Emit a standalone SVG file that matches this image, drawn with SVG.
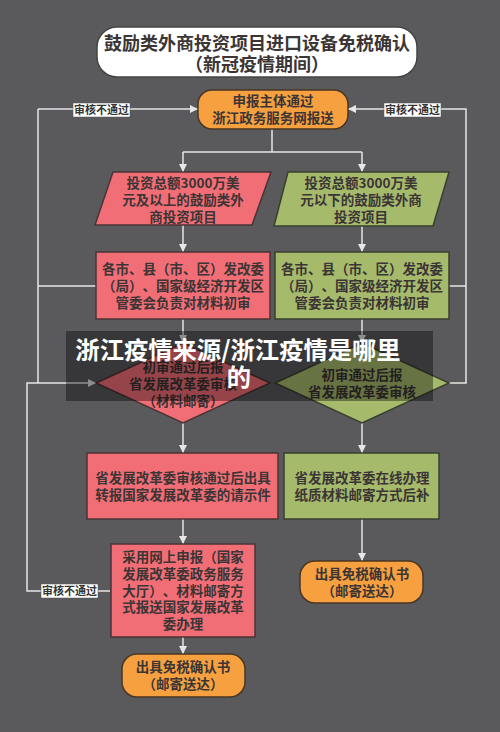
<svg xmlns="http://www.w3.org/2000/svg" width="500" height="732" viewBox="0 0 500 732">
<style>
text{font-family:"Noto Sans CJK SC","Noto Sans",sans-serif;font-weight:bold;fill:#3b3535;text-anchor:middle;font-size:13.5px;text-spacing-trim:space-all}
.pink{fill:#f26e76;stroke:#4a3434;stroke-width:1.5}
.green{fill:#a6ba6c;stroke:#3a4030;stroke-width:1.5}
.orange{fill:#f6a040;stroke:#4a3624;stroke-width:1.5}
.ln{fill:none;stroke:#e6e6e6;stroke-width:1.5}
.arr{marker-end:url(#ah)}
.lbl{fill:#ffffff;stroke:#555;stroke-width:0.5}
.lt{font-size:11px;fill:#333}
</style>
<defs>
<marker id="ah" markerUnits="userSpaceOnUse" markerWidth="9" markerHeight="8" refX="8" refY="4" orient="auto">
<path d="M0,0 L8,4 L0,8 z" fill="#e6e6e6"/>
</marker>
</defs>
<rect width="500" height="732" fill="#5a5a5c"/>
<g id="connectors">
<path class="ln" d="M272,129 V152 M183,152 H362"/>
<path class="ln arr" d="M183,152 V172"/>
<path class="ln arr" d="M362,152 V172"/>
<path class="ln arr" d="M183,225 V252"/>
<path class="ln arr" d="M362,226 V252"/>
<path class="ln arr" d="M183,319 V343"/>
<path class="ln arr" d="M362,319 V343"/>
<path class="ln arr" d="M183,423 V453"/>
<path class="ln arr" d="M362,423 V453"/>
<path class="ln arr" d="M183,519 V544"/>
<path class="ln arr" d="M362,519 V561"/>
<path class="ln arr" d="M183,637 V654"/>
<path class="ln" d="M96,286 H38 M38,383 V109"/>
<path class="ln arr" d="M38,109 H198"/>
<path class="ln arr" d="M110,591 H27 V383 H96"/>
<path class="ln" d="M449,286 H466"/>
<path class="ln arr" d="M449,383 H466 V109 H348"/>
<rect class="lbl" x="73" y="103" width="57" height="14"/>
<text class="lt" x="101.5" y="114">审核不通过</text>
<rect class="lbl" x="384" y="103" width="57" height="14"/>
<text class="lt" x="412.5" y="114">审核不通过</text>
<rect class="lbl" x="41" y="584" width="57" height="14"/>
<text class="lt" x="69.5" y="595">审核不通过</text>
</g>
<g id="title">
<rect x="97" y="27" width="320" height="50" rx="20" fill="#ffffff" stroke="#444" stroke-width="1.5"/>
<text x="257" y="50" style="font-size:18px">鼓励类外商投资项目进口设备免税确认</text>
<text x="257" y="71" style="font-size:18px">（新冠疫情期间）</text>
</g>
<g id="n_start">
<rect class="orange" x="198" y="90" width="150" height="39" rx="14"/>
<text x="273" y="106">申报主体通过</text>
<text x="273" y="123">浙江政务服务网报送</text>
</g>
<g id="n_para_pink">
<polygon class="pink" points="113,172 271,172 252,225 95,225"/>
<text x="183" y="188">投资总额3000万美</text>
<text x="183" y="205">元及以上的鼓励类外</text>
<text x="183" y="222">商投资项目</text>
</g>
<g id="n_para_green">
<polygon class="green" points="288,172 449,172 433,226 274,226"/>
<text x="361" y="188">投资总额3000万美</text>
<text x="361" y="205">元以下的鼓励类外商</text>
<text x="361" y="222">投资项目</text>
</g>
<g id="n_box_pink">
<rect class="pink" x="96" y="252" width="174" height="67"/>
<text x="183" y="274">各市、县（市、区）发改委</text>
<text x="183" y="291">（局）、国家级经济开发区</text>
<text x="183" y="308">管委会负责对材料初审</text>
</g>
<g id="n_box_green">
<rect class="green" x="275" y="252" width="174" height="67"/>
<text x="362" y="274">各市、县（市、区）发改委</text>
<text x="362" y="291">（局）、国家级经济开发区</text>
<text x="362" y="308">管委会负责对材料初审</text>
</g>
<g id="n_dia_pink">
<polygon class="pink" points="183,343 270,383 183,423 96,383"/>
<text x="183" y="372">初审通过后报</text>
<text x="183" y="389">省发展改革委审核</text>
<text x="183" y="406">（材料邮寄）</text>
</g>
<g id="n_dia_green">
<polygon class="green" points="362,343 449,383 362,423 275,383"/>
<text x="362" y="380">初审通过后报</text>
<text x="362" y="397">省发展改革委审核</text>
</g>
<g id="n_box3_pink">
<rect class="pink" x="87" y="453" width="191" height="66"/>
<text x="183" y="483">省发展改革委审核通过后出具</text>
<text x="183" y="500">转报国家发展改革委的请示件</text>
</g>
<g id="n_box3_green">
<rect class="green" x="284" y="453" width="155" height="66"/>
<text x="362" y="483">省发展改革委在线办理</text>
<text x="362" y="500">纸质材料邮寄方式后补</text>
</g>
<g id="n_box4_pink">
<rect class="pink" x="111" y="544" width="144" height="93"/>
<text x="183" y="562">采用网上申报（国家</text>
<text x="183" y="579">发展改革委政务服务</text>
<text x="183" y="596">大厅）、材料邮寄方</text>
<text x="183" y="612">式报送国家发展改革</text>
<text x="183" y="629">委办理</text>
</g>
<g id="n_end_left">
<rect class="orange" x="122" y="654" width="123" height="43" rx="15"/>
<text x="183" y="672">出具免税确认书</text>
<text x="183" y="689">（邮寄送达）</text>
</g>
<g id="n_end_right">
<rect class="orange" x="300" y="561" width="123" height="42" rx="15"/>
<text x="362" y="579">出具免税确认书</text>
<text x="362" y="596">（邮寄送达）</text>
</g>
<g id="overlay">
<rect x="66" y="331" width="367" height="70" fill="#000000" fill-opacity="0.38"/>
<text x="238" y="359" style="font-size:24.3px;fill:#ffffff">浙江疫情来源/浙江疫情是哪里</text>
<text x="239" y="386" style="font-size:24.3px;fill:#ffffff">的</text>
</g>
</svg>
